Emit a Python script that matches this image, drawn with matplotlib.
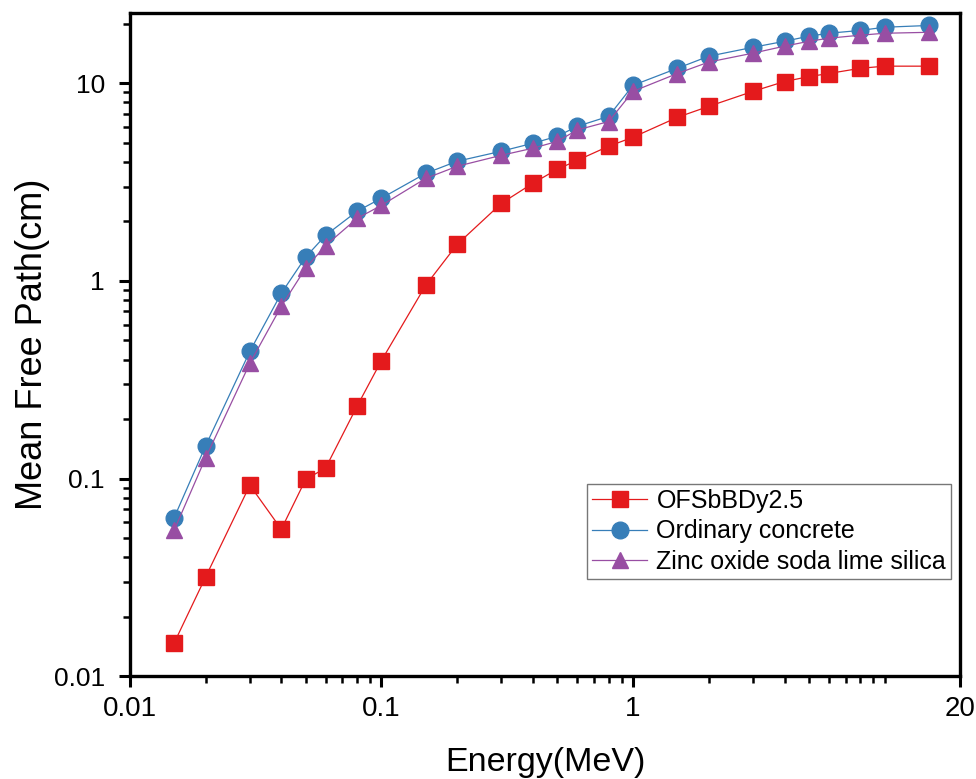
import matplotlib
matplotlib.use("Agg")
import matplotlib.pyplot as plt
from matplotlib.ticker import FixedLocator, NullFormatter

plt.rcParams['font.family'] = ['Liberation Sans', 'DejaVu Sans']

# photon energy (MeV)
energy = [0.015, 0.02, 0.03, 0.04, 0.05, 0.06, 0.08, 0.1, 0.15, 0.2, 0.3, 0.4, 0.5,
          0.6, 0.8, 1, 1.5, 2, 3, 4, 5, 6, 8, 10, 15]

# mean free path (cm)
mfp_ofsbbdy = [0.0147, 0.0317, 0.0925, 0.0554, 0.099, 0.113, 0.232, 0.395, 0.95, 1.53,
               2.47, 3.12, 3.67, 4.07, 4.8, 5.33, 6.72, 7.64, 9.1, 10.2, 10.8, 11.2,
               11.9, 12.2, 12.2]
mfp_concrete = [0.0633, 0.146, 0.44, 0.865, 1.32, 1.70, 2.25, 2.62, 3.50, 4.03, 4.53,
                4.97, 5.39, 6.05, 6.8, 9.76, 11.9, 13.7, 15.2, 16.3, 17.3, 17.9, 18.5,
                19.2, 19.6]
mfp_zinc = [0.0547, 0.127, 0.383, 0.744, 1.16, 1.51, 2.07, 2.41, 3.30, 3.80, 4.32,
            4.69, 5.08, 5.8, 6.4, 9.1, 11.2, 12.8, 14.2, 15.4, 16.3, 16.9, 17.5, 17.9,
            18.1]

labels = ["OFSbBDy2.5", "Ordinary concrete", "Zinc oxide soda lime silica"]
x_major = [0.01, 0.1, 1, 20]
x_major_labels = ["0.01", "0.1", "1", "20"]
y_major = [0.01, 0.1, 1, 10]
y_major_labels = ["0.01", "0.1", "1", "10"]

fig = plt.figure(figsize=(9.76, 7.79), dpi=100)
ax = fig.add_axes([0.133, 0.132, 0.851, 0.851])

ax.plot(energy, mfp_ofsbbdy, color='#E41A1C', lw=0.9, marker='s', ms=11,
        mec='#E41A1C', label=labels[0])
ax.plot(energy, mfp_concrete, color='#377EB8', lw=0.9, marker='o', ms=12,
        mec='#377EB8', label=labels[1])
ax.plot(energy, mfp_zinc, color='#984EA3', lw=0.9, marker='^', ms=12,
        mec='#984EA3', label=labels[2])

ax.set_xscale('log')
ax.set_yscale('log')
ax.set_xlim(0.01, 20)
ax.set_ylim(0.01, 22.6)

ax.xaxis.set_major_locator(FixedLocator(x_major))
ax.set_xticklabels(x_major_labels)
xminor = [m * 10.0 ** d for d in (-2, -1, 0) for m in range(2, 10)] + [10]
ax.xaxis.set_minor_locator(FixedLocator(xminor))
ax.xaxis.set_minor_formatter(NullFormatter())

ax.yaxis.set_major_locator(FixedLocator(y_major))
ax.set_yticklabels(y_major_labels)
yminor = [m * 10.0 ** d for d in (-2, -1, 0, 1) for m in range(2, 10)]
yminor = [v for v in yminor if v < 22.6]
ax.yaxis.set_minor_locator(FixedLocator(yminor))
ax.yaxis.set_minor_formatter(NullFormatter())

for s in ax.spines.values():
    s.set_linewidth(2.4)
ax.tick_params(which='major', direction='out', length=8, width=2.2, labelsize=19)
ax.tick_params(which='minor', direction='out', length=5, width=1.8)
ax.tick_params(axis='x', which='major', labelsize=20, pad=6)
ax.tick_params(axis='y', which='major', pad=10)

ax.set_xlabel('Energy(MeV)', fontsize=24.5, labelpad=18)
ax.set_ylabel('Mean Free Path(cm)', fontsize=26, labelpad=3)

# legend sits in the lower right, box edges matched to the reference
leg = ax.legend(loc='upper right', bbox_to_anchor=(0.989, 0.29), fontsize=18,
                frameon=True, fancybox=False, handlelength=2.2, handletextpad=0.36,
                borderpad=0.2, labelspacing=0.26, borderaxespad=0)
leg.get_frame().set_edgecolor('#555555')
leg.get_frame().set_linewidth(1.0)

fig.savefig('out.png', dpi=100)
